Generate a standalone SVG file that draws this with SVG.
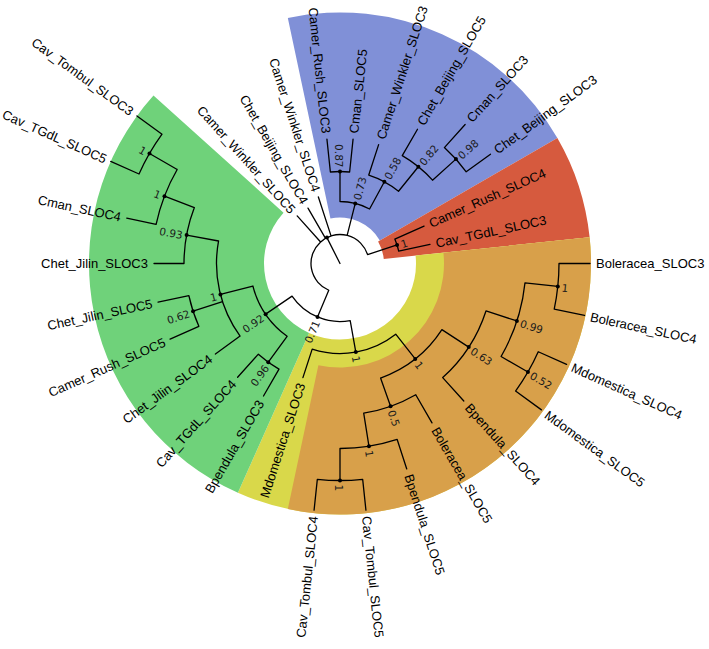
<svg xmlns="http://www.w3.org/2000/svg" width="709" height="649" viewBox="0 0 709 649">
<style>
.lf{font-family:"Liberation Sans",Arial,sans-serif;font-size:13px;fill:#000}
.bs{font-family:"DejaVu Sans","Liberation Sans",sans-serif;font-size:10.5px;fill:#1a1a1a}
.en{text-anchor:end}
.e{fill:none;stroke:#000;stroke-width:1.3;stroke-linecap:round;stroke-linejoin:round}
.d{fill:#000}
</style>
<rect width="709" height="649" fill="#fff"/>
<g id="highlights">
<path fill="#8090D7" d="M287.82,17.98 A251,251 0 0 1 557.37,138 L379.84,240.5 A46,46 0 0 0 330.44,218.51 Z"/>
<path fill="#D65A3E" d="M557.37,138 A251,251 0 0 1 589.63,237.26 L383.76,258.9 A44,44 0 0 0 378.11,241.5 Z"/>
<path fill="#D9D84A" d="M589.63,237.26 A251,251 0 0 1 237.91,492.8 L309.08,332.93 A76,76 0 0 0 415.58,255.56 Z"/>
<path fill="#D8A04A" d="M589.63,237.26 A251,251 0 0 1 287.82,509.02 L318.38,365.23 A104,104 0 0 0 443.43,252.63 Z"/>
<path fill="#6FD27A" d="M237.91,492.8 A251,251 0 0 1 153.47,95.55 L283.52,212.65 A76,76 0 0 0 309.08,332.93 Z"/>
</g>
<g id="connectors" class="e">
<path d="M340,263.5 L326.92,237.62 M328.76,290.23 A29,29 0 1 1 367.58,254.54 M367.58,254.54 L397.06,244.96 M347.14,235.39 L355.26,203.41 M331.04,235.92 L318.37,196.93 M325.5,238.39 L308,208.07 M320.6,241.95 L297.18,215.94 M328.76,290.23 L317.52,316.97"/>
<path d="M394.81,239.1 A60,60 0 0 1 398.69,251.03 M394.81,239.1 L424.05,226.08 M398.69,251.03 L429.99,244.37"/>
<path d="M340,201.5 A62,62 0 0 1 369.58,209.01 M340,201.5 L340,171.5 M369.58,209.01 L384.38,181.77"/>
<path d="M330.38,172 A92,92 0 0 1 349.62,172 M330.38,172 L326.93,139.19 M349.62,172 L353.07,139.19"/>
<path d="M368.74,175.05 A93,93 0 0 1 398.53,191.22 M368.74,175.05 L378.63,144.62 M398.53,191.22 L418.35,166.74"/>
<path d="M402.25,155.68 A124.5,124.5 0 0 1 432.52,180.19 M402.25,155.68 L417.5,129.27 M432.52,180.19 L455.93,159.12"/>
<path d="M444.38,147.57 A156,156 0 0 1 466.21,171.81 M444.38,147.57 L465.13,124.53 M466.21,171.81 L490.48,154.17"/>
<path d="M350.2,320.6 A58,58 0 0 1 292.06,296.14 M350.2,320.6 L355.82,352.1 M292.06,296.14 L265.61,314.15"/>
<path d="M395.72,334.18 A90,90 0 0 1 312.19,349.1 M312.19,349.1 L302.92,377.63 M395.72,334.18 L415.22,358.92"/>
<path d="M441.9,329.67 A121.5,121.5 0 0 1 380.56,378.03 M441.9,329.67 L468.74,347.1 M380.56,378.03 L390.57,406.31"/>
<path d="M415.75,394.7 A151.5,151.5 0 0 1 363.7,413.14 M415.75,394.7 L432,422.85 M363.7,413.14 L368.94,446.22"/>
<path d="M397.17,439.45 A185,185 0 0 1 340,448.5 M397.17,439.45 L406.75,468.93 M340,448.5 L340,480.5"/>
<path d="M362.68,479.31 A217,217 0 0 1 317.32,479.31 M362.68,479.31 L365.92,510.14 M317.32,479.31 L314.08,510.14"/>
<path d="M485.99,310.94 A153.5,153.5 0 0 1 442.71,377.57 M485.99,310.94 L516.9,320.98 M442.71,377.57 L463.79,400.98"/>
<path d="M524.98,282.94 A186,186 0 0 1 501.08,356.5 M524.98,282.94 L557.8,286.39 M501.08,356.5 L527.93,372"/>
<path d="M559,263.5 A219,219 0 0 1 554.22,309.03 M559,263.5 L590,263.5 M554.22,309.03 L584.54,315.48"/>
<path d="M538.24,351.76 A217,217 0 0 1 515.56,391.05 M538.24,351.76 L566.56,364.37 M515.56,391.05 L541.45,409.86"/>
<path d="M287.1,336.31 A90,90 0 0 1 252.87,286.03 M287.1,336.31 L268.29,362.2 M252.87,286.03 L220.43,294.42"/>
<path d="M279,369.16 A122,122 0 0 1 258.37,354.16 M279,369.16 L263.5,396 M258.37,354.16 L237.62,377.2"/>
<path d="M240.09,336.09 A123.5,123.5 0 0 1 218.57,240.99 M240.09,336.09 L215.41,354.02 M222.54,301.66 L193.06,311.24 M218.57,240.99 L186.61,235.07"/>
<path d="M198.86,326.34 A154.5,154.5 0 0 1 188.88,295.62 M198.86,326.34 L170.08,339.15 M188.88,295.62 L158.06,302.17"/>
<path d="M184,263.5 A156,156 0 0 1 194.36,207.59 M184,263.5 L154,263.5 M194.36,207.59 L164.49,196.13"/>
<path d="M156.11,224.41 A188,188 0 0 1 177.19,169.5 M156.11,224.41 L126.76,218.18 M177.19,169.5 L149.47,153.5"/>
<path d="M139.02,174.02 A220,220 0 0 1 162.02,134.19 M139.02,174.02 L110.7,161.41 M162.02,134.19 L136.94,115.97"/>
</g>
<g id="internal-nodes">
<g id="n-root"><circle class="d" cx="326.92" cy="237.62" r="2"/></g>
<g id="n-red"><circle class="d" cx="397.06" cy="244.96" r="2"/><text class="bs" dy="0.45em" transform="translate(400.87,243.72) rotate(-18)">1</text></g>
<g id="n-b0"><circle class="d" cx="355.26" cy="203.41" r="2"/><text class="bs" dy="0.45em" transform="translate(356.25,199.53) rotate(-75.75)">0.73</text></g>
<g id="n-b1"><circle class="d" cx="340" cy="171.5" r="2"/><text class="bs en" dy="0.45em" transform="translate(340,167.5) rotate(90)">0.87</text></g>
<g id="n-b2"><circle class="d" cx="384.38" cy="181.77" r="2"/><text class="bs" dy="0.45em" transform="translate(386.29,178.25) rotate(-61.5)">0.58</text></g>
<g id="n-b3"><circle class="d" cx="418.35" cy="166.74" r="2"/><text class="bs" dy="0.45em" transform="translate(420.87,163.64) rotate(-51)">0.82</text></g>
<g id="n-b4"><circle class="d" cx="455.93" cy="159.12" r="2"/><text class="bs" dy="0.45em" transform="translate(458.9,156.44) rotate(-42)">0.98</text></g>
<g id="n-071"><circle class="d" cx="317.52" cy="316.97" r="2"/><text class="bs en" dy="0.45em" transform="translate(315.97,320.66) rotate(-67.2)">0.71</text></g>
<g id="n-y"><circle class="d" cx="355.82" cy="352.1" r="2"/><text class="bs" dy="0.45em" transform="translate(356.53,356.04) rotate(79.875)">1</text></g>
<g id="n-o0"><circle class="d" cx="415.22" cy="358.92" r="2"/><text class="bs" dy="0.45em" transform="translate(417.7,362.06) rotate(51.75)">1</text></g>
<g id="n-o05"><circle class="d" cx="390.57" cy="406.31" r="2"/><text class="bs" dy="0.45em" transform="translate(391.91,410.08) rotate(70.5)">0.5</text></g>
<g id="n-oa"><circle class="d" cx="368.94" cy="446.22" r="2"/><text class="bs" dy="0.45em" transform="translate(369.57,450.17) rotate(81)">1</text></g>
<g id="n-ot"><circle class="d" cx="340" cy="480.5" r="2"/><text class="bs" dy="0.45em" transform="translate(340,484.5) rotate(90)">1</text></g>
<g id="n-o63"><circle class="d" cx="468.74" cy="347.1" r="2"/><text class="bs" dy="0.45em" transform="translate(472.09,349.28) rotate(33)">0.63</text></g>
<g id="n-o99"><circle class="d" cx="516.9" cy="320.98" r="2"/><text class="bs" dy="0.45em" transform="translate(520.7,322.21) rotate(18)">0.99</text></g>
<g id="n-obol"><circle class="d" cx="557.8" cy="286.39" r="2"/><text class="bs" dy="0.45em" transform="translate(561.78,286.81) rotate(6)">1</text></g>
<g id="n-o52"><circle class="d" cx="527.93" cy="372" r="2"/><text class="bs" dy="0.45em" transform="translate(531.39,374) rotate(30)">0.52</text></g>
<g id="n-g0"><circle class="d" cx="265.61" cy="314.15" r="2"/><text class="bs en" dy="0.45em" transform="translate(262.3,316.4) rotate(-34.25)">0.92</text></g>
<g id="n-g96"><circle class="d" cx="268.29" cy="362.2" r="2"/><text class="bs en" dy="0.45em" transform="translate(265.94,365.44) rotate(-54)">0.96</text></g>
<g id="n-g1"><circle class="d" cx="220.43" cy="294.42" r="2"/><text class="bs en" dy="0.45em" transform="translate(216.56,295.42) rotate(-14.5)">1</text></g>
<g id="n-g62"><circle class="d" cx="193.06" cy="311.24" r="2"/><text class="bs en" dy="0.45em" transform="translate(189.26,312.48) rotate(-18)">0.62</text></g>
<g id="n-g93"><circle class="d" cx="186.61" cy="235.07" r="2"/><text class="bs en" dy="0.45em" transform="translate(182.68,234.34) rotate(10.5)">0.93</text></g>
<g id="n-gb"><circle class="d" cx="164.49" cy="196.13" r="2"/><text class="bs en" dy="0.45em" transform="translate(160.75,194.69) rotate(21)">1</text></g>
<g id="n-gc"><circle class="d" cx="149.47" cy="153.5" r="2"/><text class="bs en" dy="0.45em" transform="translate(146.01,151.5) rotate(30)">1</text></g>
</g>
<g id="leaves">
<g id="leaf-Boleracea_SLOC3"><text class="lf" dy="0.36em" transform="translate(596,263.5)">Boleracea_SLOC3</text></g>
<g id="leaf-Boleracea_SLOC4"><text class="lf" dy="0.36em" transform="translate(590.41,316.73) rotate(12)">Boleracea_SLOC4</text></g>
<g id="leaf-Mdomestica_SLOC4"><text class="lf" dy="0.36em" transform="translate(572.04,366.81) rotate(24)">Mdomestica_SLOC4</text></g>
<g id="leaf-Mdomestica_SLOC5"><text class="lf" dy="0.36em" transform="translate(546.3,413.39) rotate(36)">Mdomestica_SLOC5</text></g>
<g id="leaf-Bpendula_SLOC4"><text class="lf" dy="0.36em" transform="translate(467.8,405.44) rotate(48)">Bpendula_SLOC4</text></g>
<g id="leaf-Boleracea_SLOC5"><text class="lf" dy="0.36em" transform="translate(435,428.05) rotate(60)">Boleracea_SLOC5</text></g>
<g id="leaf-Bpendula_SLOC5"><text class="lf" dy="0.36em" transform="translate(408.6,474.64) rotate(72)">Bpendula_SLOC5</text></g>
<g id="leaf-Cav_Tombul_SLOC5"><text class="lf" dy="0.36em" transform="translate(366.55,516.11) rotate(84)">Cav_Tombul_SLOC5</text></g>
<g id="leaf-Cav_Tombul_SLOC4"><text class="lf en" dy="0.36em" transform="translate(313.45,516.11) rotate(-84)">Cav_Tombul_SLOC4</text></g>
<g id="leaf-Mdomestica_SLOC3"><text class="lf en" dy="0.36em" transform="translate(301.06,383.33) rotate(-72)">Mdomestica_SLOC3</text></g>
<g id="leaf-Bpendula_SLOC3"><text class="lf en" dy="0.36em" transform="translate(260.5,401.2) rotate(-60)">Bpendula_SLOC3</text></g>
<g id="leaf-Cav_TGdL_SLOC4"><text class="lf en" dy="0.36em" transform="translate(233.61,381.66) rotate(-48)">Cav_TGdL_SLOC4</text></g>
<g id="leaf-Chet_Jilin_SLOC4"><text class="lf en" dy="0.36em" transform="translate(210.56,357.55) rotate(-36)">Chet_Jilin_SLOC4</text></g>
<g id="leaf-Camer_Rush_SLOC5"><text class="lf en" dy="0.36em" transform="translate(164.6,341.59) rotate(-24)">Camer_Rush_SLOC5</text></g>
<g id="leaf-Chet_Jilin_SLOC5"><text class="lf en" dy="0.36em" transform="translate(152.2,303.42) rotate(-12)">Chet_Jilin_SLOC5</text></g>
<g id="leaf-Chet_Jilin_SLOC3"><text class="lf en" dy="0.36em" transform="translate(148,263.5)">Chet_Jilin_SLOC3</text></g>
<g id="leaf-Cman_SLOC4"><text class="lf en" dy="0.36em" transform="translate(120.89,216.93) rotate(12)">Cman_SLOC4</text></g>
<g id="leaf-Cav_TGdL_SLOC5"><text class="lf en" dy="0.36em" transform="translate(106.13,159.38) rotate(24)">Cav_TGdL_SLOC5</text></g>
<g id="leaf-Cav_Tombul_SLOC3"><text class="lf en" dy="0.36em" transform="translate(132.08,112.44) rotate(36)">Cav_Tombul_SLOC3</text></g>
<g id="leaf-Camer_Winkler_SLOC5"><text class="lf en" dy="0.36em" transform="translate(293.16,211.48) rotate(48)">Camer_Winkler_SLOC5</text></g>
<g id="leaf-Chet_Beijing_SLOC4"><text class="lf en" dy="0.36em" transform="translate(305,202.88) rotate(60)">Chet_Beijing_SLOC4</text></g>
<g id="leaf-Camer_Winkler_SLOC4"><text class="lf en" dy="0.36em" transform="translate(316.51,191.22) rotate(72)">Camer_Winkler_SLOC4</text></g>
<g id="leaf-Camer_Rush_SLOC3"><text class="lf en" dy="0.36em" transform="translate(326.31,133.22) rotate(84)">Camer_Rush_SLOC3</text></g>
<g id="leaf-Cman_SLOC5"><text class="lf" dy="0.36em" transform="translate(353.69,133.22) rotate(-84)">Cman_SLOC5</text></g>
<g id="leaf-Camer_Winkler_SLOC3"><text class="lf" dy="0.36em" transform="translate(380.48,138.91) rotate(-72)">Camer_Winkler_SLOC3</text></g>
<g id="leaf-Chet_Beijing_SLOC5"><text class="lf" dy="0.36em" transform="translate(420.5,124.07) rotate(-60)">Chet_Beijing_SLOC5</text></g>
<g id="leaf-Cman_SLOC3"><text class="lf" dy="0.36em" transform="translate(469.14,120.07) rotate(-48)">Cman_SLOC3</text></g>
<g id="leaf-Chet_Beijing_SLOC3"><text class="lf" dy="0.36em" transform="translate(495.33,150.64) rotate(-36)">Chet_Beijing_SLOC3</text></g>
<g id="leaf-Camer_Rush_SLOC4"><text class="lf" dy="0.36em" transform="translate(429.53,223.64) rotate(-24)">Camer_Rush_SLOC4</text></g>
<g id="leaf-Cav_TGdL_SLOC3"><text class="lf" dy="0.36em" transform="translate(435.86,243.13) rotate(-12)">Cav_TGdL_SLOC3</text></g>
</g>
</svg>
